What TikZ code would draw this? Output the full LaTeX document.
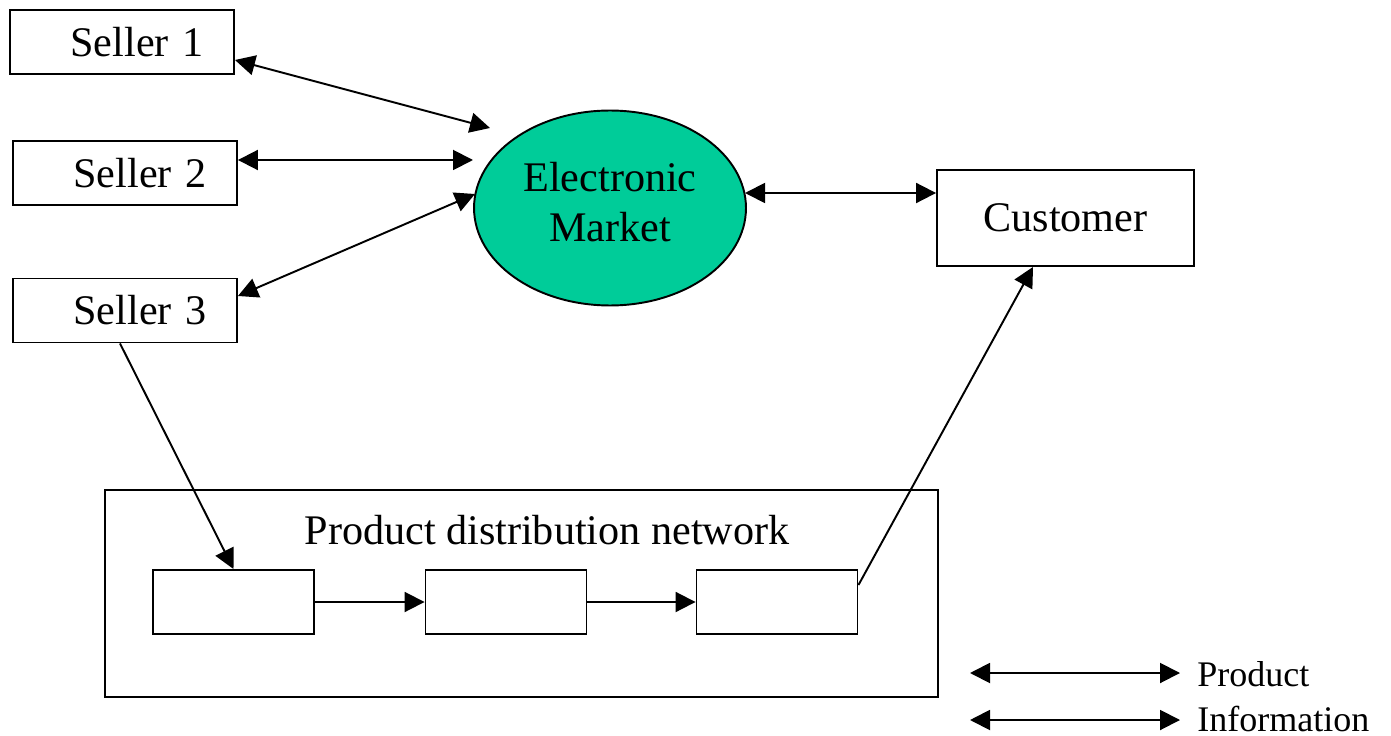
\documentclass[tikz,border=0pt]{standalone}
\usepackage{fontspec}
\setmainfont{Liberation Serif}
\usetikzlibrary{shapes.geometric,arrows.meta}
\definecolor{marketgreen}{RGB}{0,204,153}

\tikzset{
    seller/.style={draw, line width=1.1pt, minimum height=1.28cm, text width=3.28cm,
        inner xsep=0.6cm, inner ysep=0pt, align=right, font=\fontsize{24}{28}\selectfont},
    stage/.style={draw, line width=1.1pt, minimum width=3.22cm, minimum height=1.28cm},
    link/.style={line width=1.1pt, -{Triangle[length=0.4cm,width=0.4cm]}},
    twoway/.style={line width=1.1pt, {Triangle[length=0.4cm,width=0.4cm]}-{Triangle[length=0.4cm,width=0.4cm]}},
    legend/.style={anchor=base west, inner xsep=0.34cm, inner ysep=0pt, font=\fontsize{20.5}{24}\selectfont}
}

\begin{document}
\begin{tikzpicture}[x=0.02cm, y=-0.02cm]
                      \useasboundingbox (0,0) rectangle (1391,736);
                      \node[seller] (seller1) at (122,42) {Seller 1};
                      \node[seller] (seller2) at (125,173) {Seller 2};
                      \node[seller] (seller3) at (125,310.5) {Seller 3};

                      \node[draw, line width=1.1pt, ellipse, fill=marketgreen, minimum width=5.44cm, minimum height=3.9cm,
                            inner sep=0pt, align=center, text depth=0.24cm, font=\fontsize{24}{28.4}\selectfont] (market) at (610,208) {Electronic\\Market};
                      \node[draw, line width=1.1pt, minimum width=5.14cm, minimum height=1.92cm,
                            font=\fontsize{24}{28}\selectfont] (customer) at (1065.5,218) {Customer};

                      \node[draw, line width=1.1pt, minimum width=16.66cm, minimum height=4.14cm] (pdn) at (521.5,593.5) {};
                      \node[font=\fontsize{24}{28}\selectfont] (pdnlabel) at (547,530) {Product distribution network};
                      \node[stage] (b1) at (233.5,602) {};
                      \node[stage] (b2) at (506,602) {};
                      \node[stage] (b3) at (777,602) {};

                      \coordinate (m1) at (490,128);
                      \coordinate (m2) at (473,160);
                      \coordinate (m3) at (475,194);
                      \coordinate (m4) at (745,193);
                      \draw[twoway] ([yshift=-0.36cm]seller1.east) -- (m1);
                      \draw[twoway] ([yshift=0.26cm]seller2.east) -- (m2);
                      \draw[twoway] ([yshift=0.29cm]seller3.east) -- (m3);
                      \draw[twoway] (m4) -- ([yshift=0.5cm]customer.west);

                      \draw[link] ([xshift=-0.1cm]seller3.south) -- (b1.north);
                      \draw[link] (b1.east) -- (b2.west);
                      \draw[link] (b2.east) -- (b3.west);
                      \draw[link] ([yshift=0.34cm]b3.east) -- ([xshift=-0.65cm]customer.south);

                      \node[legend] (lprod) at (1180,686) {Product};
                      \node[legend] (linfo) at (1180,731) {Information};
                      \coordinate (lp0) at (970,673);
                      \coordinate (li0) at (970,720);
                      \draw[twoway] (lp0) -- (lp0 -| lprod.west);
                      \draw[twoway] (li0) -- (li0 -| linfo.west);
                  \end{tikzpicture}
\end{document}
